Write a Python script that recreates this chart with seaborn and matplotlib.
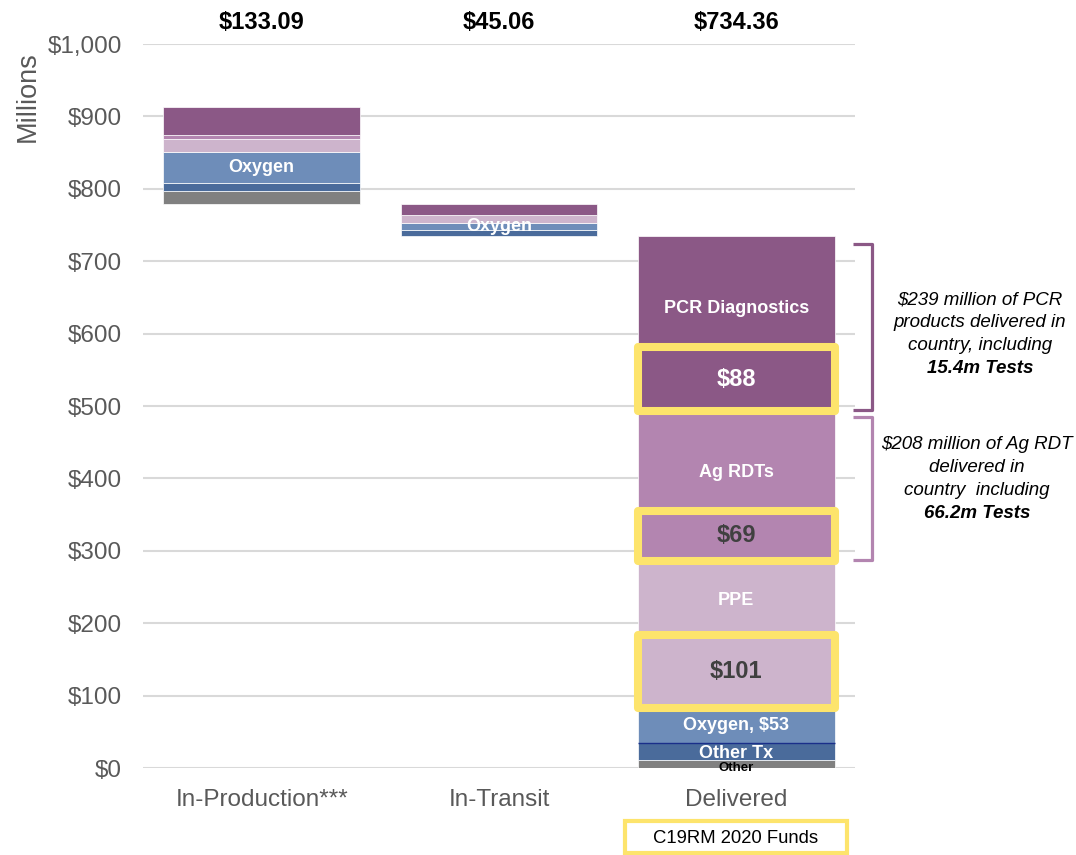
import numpy as np
import pandas as pd
import matplotlib
matplotlib.use("Agg")
import matplotlib.pyplot as plt
import matplotlib.transforms as mtransforms
from matplotlib.patches import Rectangle
from matplotlib.lines import Line2D
import seaborn as sns

# ---------------- data ----------------
stages = ["In-Production***", "In-Transit", "Delivered"]
totals = [133.09, 45.06, 734.36]

segment_names = ["Other", "Other Tx", "Oxygen", "PPE", "Ag RDTs", "PCR Diagnostics"]
other = [17.59, 0.0, 11.0]
other_tx = [11.4, 9.2, 23.0]
oxygen = [42.8, 9.2, 49.0]
ppe = [17.6, 10.5, 203.0]
ag_rdt = [5.5, 0.0, 207.0]
pcr = [38.2, 16.16, 241.36]

# C19RM 2020 funded part of delivered segments
c19rm_segments = ["PPE", "Ag RDTs", "PCR Diagnostics"]
c19rm_values = [101, 69, 88]

y_ticks = [0, 100, 200, 300, 400, 500, 600, 700, 800, 900, 1000]
y_tick_labels = ["$0", "$100", "$200", "$300", "$400", "$500", "$600",
                 "$700", "$800", "$900", "$1,000"]

pcr_note = ["$239 million of PCR", "products delivered in", "country, including", "15.4m Tests"]
ag_note = ["$208 million of Ag RDT", "delivered in", "country  including", "66.2m Tests"]

colors = {
    "Other": "#808080",
    "Other Tx": "#4A6B9B",
    "Oxygen": "#6E8DB9",
    "PPE": "#CDB4CC",
    "Ag RDTs": "#B385B0",
    "PCR Diagnostics": "#8B5886",
}
YELLOW = "#FDE46C"
TICK_GRAY = "#595959"
DARK_TXT = "#404040"

# ---------------- figure ----------------
sns.set_theme(style="white")
plt.rcParams["font.family"] = ["Liberation Sans", "DejaVu Sans"]

W, H = 1076, 855
fig = plt.figure(figsize=(W / 100, H / 100), dpi=100)
ax = fig.add_axes([143 / W, 87 / H, 712 / W, 724 / H])

BAR_W = 0.83
# waterfall bases: delivered from 0, in-transit above delivered, production above both
bases = np.array([totals[2] + totals[1], totals[2], 0.0])
seg_values = [other, other_tx, oxygen, ppe, ag_rdt, pcr]
bottom = bases.copy()
seg_bottoms = {}
for name, vals in zip(segment_names, seg_values):
    df = pd.DataFrame({"stage": stages, "value": vals})
    sns.barplot(data=df, x="stage", y="value", order=stages, color=colors[name],
                saturation=1, width=BAR_W, bottom=bottom.copy(), errorbar=None,
                edgecolor="white", linewidth=0.5, ax=ax, zorder=2)
    seg_bottoms[name] = bottom.copy()
    bottom = bottom + np.array(vals)
seg_vals = dict(zip(segment_names, seg_values))

ax.set_xlim(-0.5, 2.5)
ax.set_ylim(0, 1000)
ax.set_yticks(y_ticks, y_tick_labels)
ax.yaxis.grid(True, color="#D9D9D9", linewidth=1.5, zorder=0)
ax.xaxis.grid(False)
ax.set_axisbelow(True)
for s in ax.spines.values():
    s.set_visible(False)
ax.tick_params(axis="y", length=0, pad=15, labelsize=17.5, labelcolor=TICK_GRAY)
ax.tick_params(axis="x", length=0, pad=15, labelsize=17.5, labelcolor=TICK_GRAY)
ax.set_xlabel("")
ax.set_ylabel("Millions", fontsize=19.5, color=TICK_GRAY, va="center")
ax.yaxis.set_label_coords((28 - 143) / 712, (768 - 97) / 724)

# totals above bars
for i, t in enumerate(totals):
    ax.text(i, 1.030, f"${t:,.2f}", transform=ax.get_xaxis_transform(),
            ha="center", va="center", fontsize=17, fontweight="bold", color="black")

# Oxygen labels in the first two bars
for i in (0, 1):
    yc = seg_bottoms["Oxygen"][i] + oxygen[i] / 2
    ax.text(i, yc, "Oxygen", ha="center", va="center", fontsize=13,
            fontweight="bold", color="white", zorder=6)

# delivered bar labels
D = 2
ax.text(D, seg_bottoms["Other"][D], "Other", ha="center", va="center",
        fontsize=9.5, fontweight="bold", color="black", zorder=6)
ax.text(D, seg_bottoms["Other Tx"][D] + other_tx[D] / 2 - 3, "Other Tx", ha="center",
        va="center", fontsize=13, fontweight="bold", color="white", zorder=6)
ax.text(D, seg_bottoms["Oxygen"][D] + oxygen[D] / 2, "Oxygen, $53", ha="center",
        va="center", fontsize=13, fontweight="bold", color="white", zorder=6)
ax.hlines(seg_bottoms["Oxygen"][D], D - BAR_W / 2, D + BAR_W / 2, color="#1A2F8A",
          linewidth=1, zorder=4)

fund_text_color = {"PPE": DARK_TXT, "Ag RDTs": DARK_TXT, "PCR Diagnostics": "white"}
upper_offset = {"PPE": -2, "Ag RDTs": -8, "PCR Diagnostics": -12}
upper_label = {"PPE": "PPE", "Ag RDTs": "Ag RDTs", "PCR Diagnostics": "PCR Diagnostics"}
for name, fund in zip(c19rm_segments, c19rm_values):
    y0 = seg_bottoms[name][D]
    ax.add_patch(Rectangle((D - BAR_W / 2, y0), BAR_W, fund, fill=False,
                           edgecolor=YELLOW, linewidth=5.8, joinstyle="round",
                           zorder=5))
    ax.text(D, y0 + fund / 2, f"${fund}", ha="center", va="center", fontsize=17,
            fontweight="bold", color=fund_text_color[name], zorder=6)
    rest = seg_vals[name][D] - fund
    ax.annotate(upper_label[name], (D, y0 + fund + rest / 2),
                xytext=(0, upper_offset[name]), textcoords="offset points",
                ha="center", va="center", fontsize=13, fontweight="bold",
                color="white", zorder=6)

# brackets and notes on the right
blend = mtransforms.blended_transform_factory(fig.transFigure, ax.transData)
x_in, x_out = 852.5 / W, 871.5 / W
# (segment, colour, text lines, text x centre px, bracket top inset, text block centre y px)
note_specs = [("PCR Diagnostics", colors["PCR Diagnostics"], pcr_note, 980, 10, 334),
              ("Ag RDTs", colors["Ag RDTs"], ag_note, 977, 8, 479)]
for name, col, lines, xt, top_inset, yc_px in note_specs:
    yb = seg_bottoms[name][D] + 1.5
    yt = seg_bottoms[name][D] + seg_vals[name][D] - top_inset
    br = Line2D([x_in, x_out, x_out, x_in], [yt, yt, yb, yb], transform=blend,
                color=col, linewidth=2.3, solid_joinstyle="round",
                solid_capstyle="butt", clip_on=False)
    fig.add_artist(br)
    n = len(lines)
    for k, line in enumerate(lines):
        ypx = yc_px + (k - (n - 1) / 2) * 22.7
        fig.text(xt / W, (H - ypx) / H, line, ha="center", va="center", fontsize=13.5,
                 style="italic", fontweight="bold" if k == n - 1 else "normal",
                 color="black")

# legend box
fig.add_artist(Rectangle((624.7 / W, (H - 852.8) / H), 222.6 / W, 31.5 / H,
                         transform=fig.transFigure, fill=False, edgecolor=YELLOW,
                         linewidth=3, clip_on=False))
fig.text(736 / W, (H - 838) / H, "C19RM 2020 Funds", ha="center", va="center",
         fontsize=13.3, color="black")

fig.savefig("out.png", dpi=100)
